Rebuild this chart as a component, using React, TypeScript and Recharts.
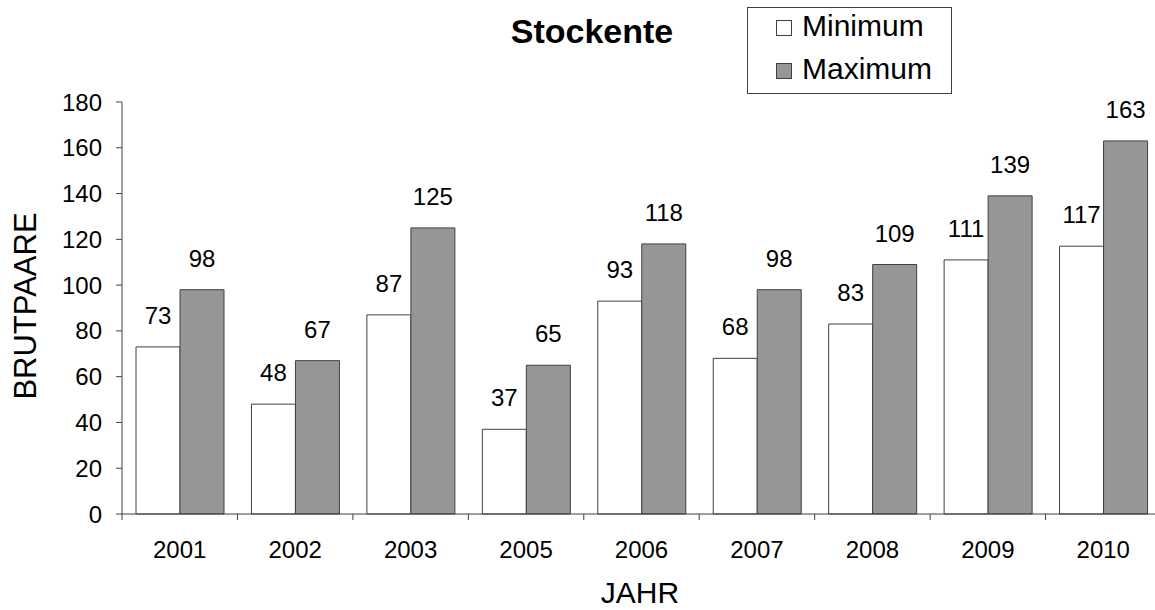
import { BarChart, Bar, XAxis, YAxis, Legend, LabelList } from 'recharts'

const years = ['2001', '2002', '2003', '2005', '2006', '2007', '2008', '2009', '2010']
const minimum = [73, 48, 87, 37, 93, 68, 83, 111, 117]
const maximum = [98, 67, 125, 65, 118, 98, 109, 139, 163]
const yTicks = [0, 20, 40, 60, 80, 100, 120, 140, 160, 180]
const seriesNames = ['Minimum', 'Maximum']

const data = years.map((year, i) => ({ year, min: minimum[i], max: maximum[i] }))

const FONT = '"Liberation Sans", Arial, sans-serif'
const AXIS = '#404040'
const GREY = '#969696'

// tick line sits on the category boundary, label in the middle
const YearTick = (props: any) => {
  const { x, y, payload } = props
  const half = payload && payload.offset ? payload.offset : 0
  return (
    <g>
      <line x1={x - half} x2={x - half} y1={y - 27} y2={y - 21} stroke={AXIS} />
      <text x={x} y={y} dy={17} textAnchor="middle" fontSize={24} fill="#000" fontFamily={FONT}>
        {payload.value}
      </text>
    </g>
  )
}

const LegendBox = (props: any) => {
  const payload = [...(props.payload || [])].sort(
    (a: any, b: any) => seriesNames.indexOf(a.value) - seriesNames.indexOf(b.value)
  )
  return (
    <div
      style={{
        position: 'relative',
        width: 205,
        height: 87,
        boxSizing: 'border-box',
        border: `1px solid ${AXIS}`,
        background: '#fff',
        fontFamily: FONT,
        fontSize: 30,
        color: '#000'
      }}
    >
      {payload.map((entry: any, i: number) => (
        <div key={entry.value}>
          <div
            style={{
              position: 'absolute',
              left: 28,
              top: 12 + i * 43,
              width: 16,
              height: 16,
              boxSizing: 'border-box',
              border: `1px solid ${AXIS}`,
              background: entry.color
            }}
          />
          <div style={{ position: 'absolute', left: 54, top: 3 + i * 43, lineHeight: '30px', whiteSpace: 'nowrap' }}>
            {entry.value}
          </div>
        </div>
      ))}
    </div>
  )
}

const App = () => {
  return (
    <div style={{ position: 'absolute', left: 0, top: 0, width: 1155, height: 610, overflow: 'hidden', background: '#fff' }}>
      <BarChart
        width={1170}
        height={610}
        data={data}
        margin={{ top: 102, right: 9, bottom: 0, left: 0 }}
        barCategoryGap={14}
        barGap={0}
        style={{ fontFamily: FONT }}
      >
        <text x={592} y={43} textAnchor="middle" fontSize={34} fontWeight="bold" fontFamily={FONT} fill="#000">
          Stockente
        </text>
        <text x={640} y={603} textAnchor="middle" fontSize={30} fontFamily={FONT} fill="#000">
          JAHR
        </text>
        <text
          x={36}
          y={306}
          transform="rotate(-90 36 306)"
          textAnchor="middle"
          fontSize={31}
          fontFamily={FONT}
          fill="#000"
        >
          BRUTPAARE
        </text>
        <XAxis
          dataKey="year"
          height={96}
          axisLine={{ stroke: AXIS }}
          tickLine={false}
          tickSize={0}
          tickMargin={27}
          interval={0}
          tick={<YearTick />}
        />
        <YAxis
          width={122}
          domain={[0, 180]}
          ticks={yTicks}
          interval={0}
          axisLine={{ stroke: AXIS }}
          tickLine={{ stroke: AXIS }}
          tickSize={6}
          tickMargin={14}
          tick={{ fill: '#000', fontSize: 24, fontFamily: FONT }}
        />
        <Legend
          layout="vertical"
          align="center"
          verticalAlign="middle"
          wrapperStyle={{ top: 7, left: 747, width: 205, height: 87 }}
          content={<LegendBox />}
        />
        <Bar dataKey="min" name="Minimum" fill="#ffffff" stroke={AXIS} strokeWidth={1} isAnimationActive={false}>
          <LabelList dataKey="min" position="top" offset={23} fill="#000" fontSize={24} fontFamily={FONT} />
        </Bar>
        <Bar dataKey="max" name="Maximum" fill={GREY} stroke={AXIS} strokeWidth={1} isAnimationActive={false}>
          <LabelList dataKey="max" position="top" offset={23} fill="#000" fontSize={24} fontFamily={FONT} />
        </Bar>
      </BarChart>
    </div>
  )
}

export default App
